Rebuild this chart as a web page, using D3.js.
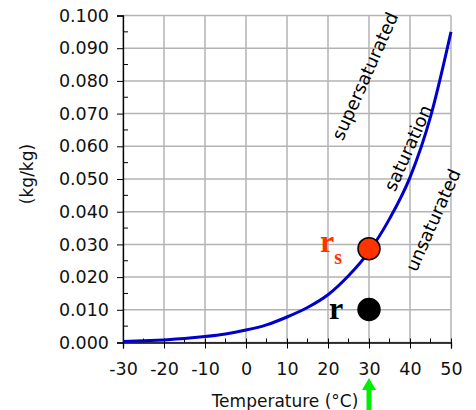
<!DOCTYPE html>
<html>
<head>
<meta charset="utf-8">
<script src="https://cdn.jsdelivr.net/npm/d3@7"></script>
<style>
  body { margin: 0; background: #ffffff; }
  text { font-family: "DejaVu Sans", Verdana, sans-serif; }
</style>
</head>
<body>
<script>
const width = 476;
const height = 410;

// saturation mixing ratio curve
const temps = [-30, -25, -20, -15, -10, -5, 0, 5, 10, 15, 20, 25, 30, 35, 40, 45, 50];
const satRatio = [0.0003, 0.0005, 0.0008, 0.0012, 0.0018, 0.0026, 0.0038, 0.0054, 0.0078, 0.0107, 0.0146, 0.0204, 0.0278, 0.0378, 0.0505, 0.0690, 0.0950];

// the two marked points
const pointTemp = [30, 30];
const pointValue = [0.0287, 0.0101];
const pointLabel = ["rs", "r"];

const xTicks = [-30, -20, -10, 0, 10, 20, 30, 40, 50];
const yTicks = [0, 0.01, 0.02, 0.03, 0.04, 0.05, 0.06, 0.07, 0.08, 0.09, 0.1];

const margin = {top: 15.5, right: 25, bottom: 67.5, left: 123};

const svg = d3.select("body").append("svg")
    .attr("width", width)
    .attr("height", height);

const x = d3.scaleLinear().domain([-30, 50]).range([margin.left, width - margin.right]);
const y = d3.scaleLinear().domain([0, 0.1]).range([height - margin.bottom, margin.top]);

//Grid
svg.append("g").selectAll("line")
    .data(xTicks)
    .join("line")
    .attr("x1", d => x(d)).attr("x2", d => x(d))
    .attr("y1", y(0)).attr("y2", y(0.1))
    .attr("stroke", "#b3b3b3").attr("stroke-width", 1.5);
svg.append("g").selectAll("line")
    .data(yTicks)
    .join("line")
    .attr("x1", x(-30)).attr("x2", x(50))
    .attr("y1", d => y(d)).attr("y2", d => y(d))
    .attr("stroke", "#b3b3b3").attr("stroke-width", 1.5);

//Axes (hyphen minus like the original)
const fmtX = d => String(d);
const xAxis = svg.append("g")
    .attr("transform", `translate(0,${y(0)})`)
    .call(d3.axisBottom(x).tickValues(xTicks).tickSize(6).tickPadding(14).tickFormat(fmtX));
xAxis.selectAll(".tick line").attr("y1", -4);
xAxis.select(".domain").attr("stroke", "#000").attr("stroke-width", 1.3);
xAxis.selectAll("text").style("font-size", "17.5px").style("font-family", "DejaVu Sans, sans-serif").attr("fill", "#111");
//minor x ticks
svg.append("g").selectAll("line")
    .data(d3.range(-25, 50, 10))
    .join("line")
    .attr("x1", d => x(d)).attr("x2", d => x(d))
    .attr("y1", y(0)).attr("y2", y(0) - 4)
    .attr("stroke", "#000");

const yAxis = svg.append("g")
    .attr("transform", `translate(${x(-30)},0)`)
    .call(d3.axisLeft(y).tickValues(yTicks).tickSize(6).tickPadding(8).tickFormat(d3.format(".3f")));
yAxis.select(".domain").attr("stroke", "#000").attr("stroke-width", 1.3);
yAxis.selectAll("text").style("font-size", "17.5px").style("font-family", "DejaVu Sans, sans-serif").attr("fill", "#111");
//minor y ticks
svg.append("g").selectAll("line")
    .data(d3.range(0.005, 0.1, 0.01))
    .join("line")
    .attr("x1", x(-30)).attr("x2", x(-30) + 5)
    .attr("y1", d => y(d)).attr("y2", d => y(d))
    .attr("stroke", "#000");

//Axis titles
svg.append("text")
    .attr("x", 285)
    .attr("y", 407)
    .attr("text-anchor", "middle")
    .style("font-size", "17px")
    .attr("fill", "#111")
    .text("Temperature (°C)");

svg.append("text")
    .attr("transform", `translate(33,174) rotate(-90)`)
    .attr("text-anchor", "middle")
    .style("font-size", "17px")
    .attr("fill", "#111")
    .text("(kg/kg)");

//Curve
const line = d3.line()
    .x((d, i) => x(temps[i]))
    .y(d => y(d))
    .curve(d3.curveMonotoneX);
svg.append("path")
    .datum(satRatio)
    .attr("d", line)
    .attr("fill", "none")
    .attr("stroke", "#0000cc")
    .attr("stroke-width", 3);

//Region labels
const regionLabels = [
    {t: "supersaturated", tx: 365, ty: 76},
    {t: "saturation", tx: 408, ty: 148},
    {t: "unsaturated", tx: 433, ty: 220}
];
svg.append("g").selectAll("text")
    .data(regionLabels)
    .join("text")
    .attr("transform", d => `translate(${d.tx},${d.ty}) rotate(-66)`)
    .attr("text-anchor", "middle")
    .attr("dy", "0.35em")
    .style("font-size", "18px")
    .attr("fill", "#000")
    .text(d => d.t);

//Points
svg.append("g").selectAll("circle")
    .data(pointValue)
    .join("circle")
    .attr("cx", (d, i) => x(pointTemp[i]))
    .attr("cy", d => y(d))
    .attr("r", 11)
    .attr("fill", (d, i) => i === 0 ? "#ff3300" : "#000")
    .attr("stroke", "#000")
    .attr("stroke-width", 1.5);

//Point labels
const rsLabel = svg.append("text")
    .attr("x", x(pointTemp[0]) - 49)
    .attr("y", y(pointValue[0]) + 3)
    .style("font-family", "Liberation Serif, serif")
    .style("font-weight", "bold")
    .style("font-size", "32px")
    .attr("fill", "#ff3300");
rsLabel.append("tspan").text(pointLabel[0][0]);
rsLabel.append("tspan").attr("dy", 12).style("font-size", "20px").text(pointLabel[0][1]);

svg.append("text")
    .attr("x", x(pointTemp[1]) - 40)
    .attr("y", y(pointValue[1]) + 10)
    .style("font-family", "Liberation Serif, serif")
    .style("font-weight", "bold")
    .style("font-size", "32px")
    .attr("fill", "#000")
    .text(pointLabel[1]);

//Green arrow under 30
const ax = x(30);
svg.append("path")
    .attr("d", `M${ax - 2.5},412 L${ax - 2.5},390 L${ax - 7},390 L${ax},378 L${ax + 7},390 L${ax + 2.5},390 L${ax + 2.5},412 Z`)
    .attr("fill", "#00ee00");
</script>
</body>
</html>
